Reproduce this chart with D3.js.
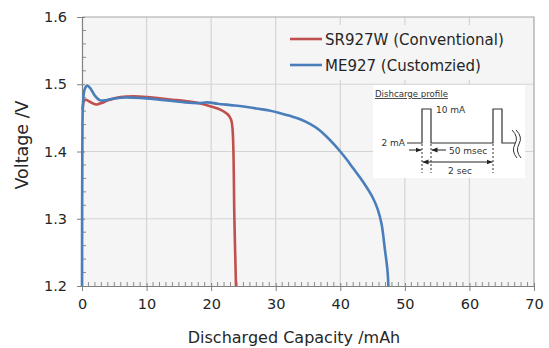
<!DOCTYPE html>
<html>
<head>
<meta charset="utf-8">
<script src="https://cdn.jsdelivr.net/npm/d3@7"></script>
<style>
  body { margin: 0; background: #fff; }
  svg { display: block; font-family: "DejaVu Sans", Verdana, sans-serif; }
</style>
</head>
<body>
<svg id="chart" width="549" height="348"></svg>
<script>
// discharge curves
const srCapacity = [0.1, 0.3, 0.6, 1.2, 2.2, 3, 4, 5, 6, 8, 10, 12, 14, 16, 18, 20, 21.5, 22.6, 23.1, 23.3, 23.45, 23.6, 23.85];
const srVoltage  = [1.462, 1.475, 1.477, 1.474, 1.470, 1.472, 1.476, 1.479, 1.481, 1.482, 1.481, 1.479, 1.477, 1.475, 1.472, 1.467, 1.462, 1.455, 1.447, 1.435, 1.40, 1.30, 1.2];

const meCapacity = [0, 0.05, 0.15, 0.4, 0.8, 1.3, 2, 2.8, 3.5, 4.5, 6, 8, 10, 12, 14, 16, 18, 19.5, 21, 23, 25, 27, 29, 30.7, 32.2, 33.8, 35.3, 36.6, 37.9, 39, 40, 41, 42, 43, 44, 45, 45.8, 46.4, 46.9, 47.3, 47.45];
const meVoltage  = [1.2, 1.40, 1.47, 1.492, 1.498, 1.494, 1.483, 1.476, 1.476, 1.478, 1.480, 1.480, 1.479, 1.477, 1.475, 1.473, 1.472, 1.473, 1.471, 1.469, 1.467, 1.464, 1.461, 1.457, 1.453, 1.448, 1.441, 1.433, 1.422, 1.411, 1.400, 1.388, 1.375, 1.362, 1.348, 1.332, 1.314, 1.292, 1.255, 1.224, 1.2];

const xTicks = [0, 10, 20, 30, 40, 50, 60, 70];
const yTicks = [1.2, 1.3, 1.4, 1.5, 1.6];
const seriesNames = ["SR927W (Conventional)", "ME927 (Customzied)"];
const seriesColors = ["#c0504d", "#4a7ebb"];

const margin = { top: 17, right: 15, bottom: 62, left: 82 };
const W = 549, H = 348;
const width = W - margin.left - margin.right;   // 452
const height = H - margin.top - margin.bottom;  // 269

const svg = d3.select("#chart");

const x = d3.scaleLinear().domain([0, 70]).range([0, width]);
const y = d3.scaleLinear().domain([1.2, 1.6]).range([height, 0]);

const g = svg.append("g").attr("transform", `translate(${margin.left},${margin.top})`);

// plot background
g.append("rect")
  .attr("width", width).attr("height", height)
  .attr("fill", "#f5f5f5");

// grid
g.append("g").selectAll("line")
  .data(xTicks.slice(1, -1))
  .join("line")
  .attr("x1", d => x(d)).attr("x2", d => x(d))
  .attr("y1", 0).attr("y2", height)
  .attr("stroke", "#d4d4d4").attr("stroke-width", 1.2);

g.append("g").selectAll("line")
  .data(yTicks.slice(1, -1))
  .join("line")
  .attr("x1", 0).attr("x2", width)
  .attr("y1", d => y(d)).attr("y2", d => y(d))
  .attr("stroke", "#d4d4d4").attr("stroke-width", 1.2);

// frame (top/right)
g.append("path")
  .attr("d", `M0,0H${width}V${height}`)
  .attr("fill", "none").attr("stroke", "#a6a6a6").attr("stroke-width", 1.2);

// legend box hides the grid behind it
g.append("rect")
  .attr("x", 200).attr("y", 8).attr("width", 248).attr("height", 55)
  .attr("fill", "#f5f5f5");

// inset box
const inset = g.append("g").attr("transform", "translate(291,68)");
inset.append("rect").attr("width", 152).attr("height", 93).attr("fill", "#fff");

// axes
const xMinor = d3.range(0, 71).filter(d => d % 10 !== 0);
const yMinor = d3.range(1.2, 1.6001, 0.02).filter(d => Math.abs(d * 10 - Math.round(d * 10)) > 1e-6);

g.append("g").selectAll("line")
  .data(xMinor).join("line")
  .attr("x1", d => x(d)).attr("x2", d => x(d))
  .attr("y1", height - 4).attr("y2", height)
  .attr("stroke", "#8c8c8c");

g.append("g").selectAll("line")
  .data(yMinor).join("line")
  .attr("x1", 0).attr("x2", 4)
  .attr("y1", d => y(d)).attr("y2", d => y(d))
  .attr("stroke", "#8c8c8c");

const xAxis = g.append("g")
  .attr("transform", `translate(0,${height})`)
  .call(d3.axisBottom(x).tickValues(xTicks).tickSize(5).tickSizeOuter(0).tickPadding(8));
xAxis.selectAll(".tick line").attr("y1", -3);

const yAxis = g.append("g")
  .call(d3.axisLeft(y).tickValues(yTicks).tickFormat(d3.format(".1f")).tickSize(5).tickSizeOuter(0).tickPadding(10));
yAxis.selectAll(".tick line").attr("x1", 3);

[xAxis, yAxis].forEach(a => {
  a.select(".domain").attr("stroke", "#808080").attr("stroke-width", 1.2);
  a.selectAll(".tick line").attr("stroke", "#808080");
  a.selectAll("text")
    .style("font-family", "DejaVu Sans, Verdana, sans-serif")
    .style("font-size", "14.5px")
    .attr("fill", "#262626");
});

// curves
const srData = srCapacity.map((c, i) => [c, srVoltage[i]]);
const meData = meCapacity.map((c, i) => [c, meVoltage[i]]);
const lineFn = d3.line().x(d => x(d[0])).y(d => y(d[1])).curve(d3.curveCatmullRom.alpha(0.5));

g.append("path").datum(srData)
  .attr("d", lineFn)
  .attr("fill", "none").attr("stroke", seriesColors[0]).attr("stroke-width", 2.6);

g.append("path").datum(meData)
  .attr("d", lineFn)
  .attr("fill", "none").attr("stroke", seriesColors[1]).attr("stroke-width", 2.6);

// legend
const legend = g.append("g").attr("transform", "translate(208,22)");
seriesNames.forEach((name, i) => {
  const row = legend.append("g").attr("transform", `translate(0,${i * 26})`);
  row.append("line").attr("x1", 0).attr("x2", 32)
    .attr("stroke", seriesColors[i]).attr("stroke-width", 2.6);
  row.append("text").attr("x", 35).attr("y", 6)
    .style("font-size", "15px").attr("fill", "#262626")
    .text(name);
});

// inset: discharge profile sketch
inset.append("text")
  .attr("x", 2).attr("y", 12)
  .style("font-size", "8.6px").attr("fill", "#333")
  .attr("text-decoration", "underline")
  .text("Dishcarge profile");

inset.append("path")
  .attr("d", "M34,58H49V24H58V58H120V24H129V58H142")
  .attr("fill", "none").attr("stroke", "#333").attr("stroke-width", 1.2);

inset.append("text").attr("x", 63).attr("y", 28)
  .style("font-size", "9px").attr("fill", "#333").text("10 mA");
inset.append("text").attr("x", 32).attr("y", 61).attr("text-anchor", "end")
  .style("font-size", "9px").attr("fill", "#333").text("2 mA");
inset.append("text").attr("x", 76).attr("y", 69)
  .style("font-size", "9px").attr("fill", "#333").text("50 msec");
inset.append("text").attr("x", 87).attr("y", 89).attr("text-anchor", "middle")
  .style("font-size", "9px").attr("fill", "#333").text("2 sec");

const defs = svg.append("defs");
defs.append("marker")
  .attr("id", "arr").attr("viewBox", "0 0 10 10")
  .attr("refX", 10).attr("refY", 5)
  .attr("markerWidth", 6).attr("markerHeight", 6)
  .attr("orient", "auto-start-reverse")
  .append("path").attr("d", "M0,1L10,5L0,9Z").attr("fill", "#222");

[49, 58, 120].forEach(px => {
  inset.append("line").attr("x1", px).attr("x2", px).attr("y1", 59).attr("y2", 88)
    .attr("stroke", "#333").attr("stroke-width", 1).attr("stroke-dasharray", "2,2");
});

inset.append("line").attr("x1", 36).attr("x2", 48.5).attr("y1", 65).attr("y2", 65)
  .attr("stroke", "#222").attr("stroke-width", 1).attr("marker-end", "url(#arr)");
inset.append("line").attr("x1", 73).attr("x2", 58.5).attr("y1", 65).attr("y2", 65)
  .attr("stroke", "#222").attr("stroke-width", 1).attr("marker-end", "url(#arr)");
inset.append("line").attr("x1", 49.5).attr("x2", 119.5).attr("y1", 77).attr("y2", 77)
  .attr("stroke", "#222").attr("stroke-width", 1)
  .attr("marker-start", "url(#arr)").attr("marker-end", "url(#arr)");

// break mark
[0, 4].forEach(dx => {
  inset.append("path")
    .attr("d", `M${139 + dx},45 Q${146 + dx},52 ${142 + dx},59 Q${138 + dx},66 ${144 + dx},73`)
    .attr("fill", "none").attr("stroke", "#333").attr("stroke-width", 1);
});

// axis titles
svg.append("text")
  .attr("x", margin.left + width / 2 - 14).attr("y", 343)
  .attr("text-anchor", "middle")
  .style("font-size", "16px").attr("fill", "#262626")
  .text("Discharged Capacity /mAh");

svg.append("text")
  .attr("transform", "translate(28,145) rotate(-90)")
  .attr("text-anchor", "middle")
  .style("font-size", "17.5px").attr("fill", "#262626")
  .text("Voltage /V");
</script>
</body>
</html>
